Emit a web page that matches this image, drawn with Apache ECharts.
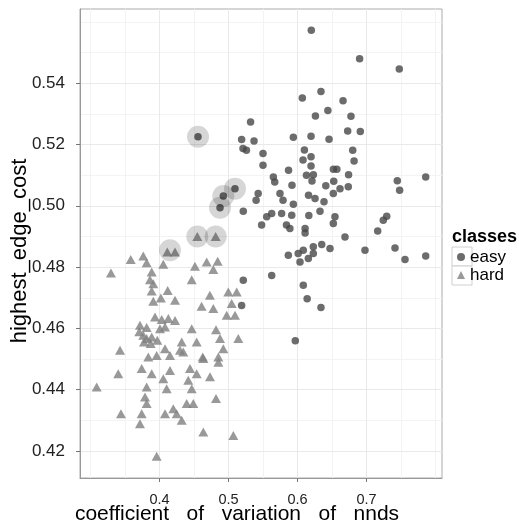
<!DOCTYPE html>
<html><head><meta charset="utf-8">
<script src="https://cdn.jsdelivr.net/npm/echarts@6/dist/echarts.min.js"></script>
<style>html,body{margin:0;padding:0;background:#fff}#c{width:519px;height:525px}</style>
</head><body><div id="c"></div>
<script>
const classes = ['easy', 'hard'];
const easyX = [0.620,0.690,0.7475,0.634,0.607,0.666,0.644,0.626,0.6775,0.532,0.4558,0.594,0.6196,0.6457,0.6727,0.691,0.519,0.537,0.521,0.526,0.550,0.550,0.610,0.6196,0.608,0.680,0.682,0.587,0.6196,0.652,0.657,0.565,0.567,0.613,0.623,0.621,0.674,0.6525,0.592,0.641,0.6616,0.6736,0.7446,0.7858,0.748,0.5094,0.4925,0.4877,0.5214,0.543,0.540,0.5746,0.579,0.594,0.616,0.6254,0.6384,0.6519,0.5554,0.5626,0.548,0.577,0.5916,0.584,0.589,0.611,0.611,0.6164,0.6326,0.6543,0.6519,0.7293,0.7243,0.7162,0.6688,0.5867,0.601,0.6084,0.6036,0.6157,0.6229,0.6351,0.6471,0.6229,0.6978,0.7413,0.7558,0.7858,0.5626,0.5214,0.6084,0.519,0.614,0.634,0.5968];
const easyY = [0.5573,0.548,0.5446,0.5373,0.5352,0.5343,0.5311,0.5293,0.5292,0.5273,0.5225,0.5224,0.5227,0.5217,0.5244,0.5242,0.5216,0.5211,0.5187,0.5181,0.5171,0.5132,0.5182,0.516,0.5149,0.5181,0.5146,0.5116,0.513,0.5119,0.5119,0.5094,0.5078,0.510,0.5101,0.5081,0.5101,0.508,0.5067,0.5065,0.5056,0.5062,0.5082,0.5094,0.5051,0.5056,0.5032,0.4994,0.4982,0.504,0.5018,0.504,0.5018,0.5005,0.5034,0.5024,0.5013,0.504,0.4964,0.4975,0.4937,0.4975,0.4969,0.4937,0.4926,0.4926,0.4911,0.4968,0.4982,0.4964,0.4942,0.4966,0.4953,0.4918,0.4898,0.4839,0.4844,0.4855,0.4817,0.4828,0.4866,0.4874,0.4861,0.4844,0.4855,0.4862,0.4825,0.4836,0.4773,0.4757,0.4741,0.4675,0.4697,0.4668,0.456];
const hardX = [0.4113,0.4225,0.4548,0.4814,0.3583,0.3765,0.3814,0.4055,0.3297,0.3887,0.3862,0.391,0.3887,0.4119,0.402,0.4225,0.391,0.3935,0.4032,0.4128,0.4225,0.3717,0.3814,0.3707,0.3765,0.3814,0.3887,0.3968,0.3775,0.3872,0.4007,0.408,0.3428,0.4297,0.3959,0.4514,0.4684,0.4843,0.478,0.4467,0.473,0.4997,0.5119,0.461,0.478,0.5046,0.4974,0.5094,0.4467,0.4819,0.4877,0.5142,0.4539,0.4925,0.4322,0.4345,0.4626,0.309,0.3402,0.3742,0.3887,0.3814,0.379,0.3814,0.3742,0.3717,0.3442,0.3838,0.408,0.4152,0.4152,0.4055,0.4104,0.408,0.420,0.4249,0.4322,0.4442,0.4417,0.4467,0.4394,0.449,0.4539,0.4635,0.4732,0.4635,0.4819,0.507,0.3959,0.4853,0.4853];
const hardY = [0.4849,0.4849,0.490,0.490,0.4825,0.4836,0.4814,0.4809,0.4781,0.4784,0.4759,0.4746,0.4722,0.4724,0.4699,0.4692,0.4689,0.4637,0.4629,0.4632,0.4626,0.461,0.4603,0.4589,0.4578,0.4567,0.4572,0.4561,0.4556,0.4551,0.4599,0.4605,0.4529,0.4529,0.4512,0.4803,0.4817,0.4819,0.4792,0.4759,0.4708,0.4719,0.4719,0.4672,0.4665,0.4681,0.4643,0.4643,0.4599,0.4596,0.4567,0.4567,0.4556,0.4534,0.4556,0.4523,0.4507,0.4409,0.4452,0.4469,0.4452,0.4409,0.4376,0.4355,0.4322,0.4289,0.4322,0.4507,0.4534,0.4512,0.4463,0.4436,0.4403,0.4322,0.4338,0.4322,0.430,0.4469,0.4431,0.4403,0.4355,0.4355,0.4452,0.4502,0.4442,0.4262,0.4371,0.4251,0.4183,0.4507,0.449];
const highlightX = [0.4558,0.5094,0.4925,0.4877,0.4548,0.4814,0.4152];
const highlightY = [0.5225,0.5056,0.5032,0.4994,0.490,0.490,0.4855];
const xTicks = [0.4, 0.5, 0.6, 0.7];
const yTicks = [0.42, 0.44, 0.46, 0.48, 0.50, 0.52, 0.54];
const xMinor = [0.3, 0.35, 0.45, 0.55, 0.65, 0.75, 0.8];
const yMinor = [0.43, 0.45, 0.47, 0.49, 0.51, 0.53, 0.55, 0.56];
const xRange = [0.2848, 0.8094];
const yRange = [0.4112, 0.5642];
const xTitle = 'coefficient   of   variation   of   nnds';
const yTitle = 'highest_edge_cost';
const legendTitle = 'classes';

const zip = (a, b) => a.map((v, i) => [v, b[i]]);
const FONT = 'Liberation Sans';
const chart = echarts.init(document.getElementById('c'), null, {renderer: 'canvas'});
const minorAxis = (r, vals) => ({
  type: 'value', min: r[0], max: r[1], z: 0,
  axisLine: {show: false}, axisLabel: {show: false},
  axisTick: {show: false, customValues: vals},
  splitLine: {show: true, lineStyle: {color: '#f3f3f3', width: 1}}
});
chart.setOption({
  animation: false,
  backgroundColor: '#ffffff',
  textStyle: {fontFamily: FONT},
  title: {text: legendTitle, left: 452, top: 228, padding: 0,
    textStyle: {fontFamily: FONT, fontWeight: 'bold', fontSize: 18, color: '#000'}},
  grid: {left: 80, top: 9, right: 77, bottom: 47, outerBoundsMode: 'none', containLabel: false,
    show: true, borderColor: '#ababab', borderWidth: 1, backgroundColor: 'transparent'},
  legend: {
    data: classes, orient: 'vertical', left: 457, top: 248, padding: 0,
    itemGap: 0, itemWidth: 8, itemHeight: 8, itemTextGap: 12,
    textStyle: {fontFamily: FONT, fontSize: 17, color: '#000', lineHeight: 18}
  },
  graphic: [
    {type: 'rect', z: 0, shape: {x: 452, y: 247, width: 20, height: 19}, style: {fill: '#fff', stroke: '#d0d0d0', lineWidth: 1}},
    {type: 'rect', z: 0, shape: {x: 452, y: 266, width: 20, height: 19}, style: {fill: '#fff', stroke: '#d0d0d0', lineWidth: 1}}
  ],
  xAxis: [
    {type: 'value', min: xRange[0], max: xRange[1], z: 1,
      name: xTitle, nameLocation: 'middle', nameGap: 26, nameMoveOverlap: false,
      nameTextStyle: {fontFamily: FONT, fontSize: 21, color: '#000', padding: [0, 48, 0, 0]},
      axisLine: {show: true, onZero: false, lineStyle: {color: '#999', width: 1}},
      axisTick: {show: true, length: 4, customValues: xTicks, lineStyle: {color: '#777'}},
      axisLabel: {customValues: xTicks, margin: 14, fontFamily: FONT, fontSize: 14.5, color: '#222', formatter: v => v.toFixed(1)},
      splitLine: {show: true, lineStyle: {color: '#e9e9e9', width: 1}}},
    minorAxis(xRange, xMinor)
  ],
  yAxis: [
    {type: 'value', min: yRange[0], max: yRange[1], z: 1,
      name: yTitle, nameLocation: 'middle', nameGap: 49, nameRotate: 90, nameMoveOverlap: false,
      nameTextStyle: {fontFamily: FONT, fontSize: 22, color: '#000', padding: [0, 15, 0, 0]},
      axisLine: {show: true, onZero: false, lineStyle: {color: '#999', width: 1}},
      axisTick: {show: true, length: 4, customValues: yTicks, lineStyle: {color: '#777'}},
      axisLabel: {customValues: yTicks, margin: 15, fontFamily: FONT, fontSize: 17, color: '#222', formatter: v => v.toFixed(2)},
      splitLine: {show: true, lineStyle: {color: '#e9e9e9', width: 1}}},
    minorAxis(yRange, yMinor)
  ],
  series: [
    {name: 'easy', type: 'scatter', xAxisIndex: 0, yAxisIndex: 0, symbol: 'circle', symbolSize: 7.5,
      itemStyle: {color: '#474747'}, data: zip(easyX, easyY), z: 3},
    {name: 'hard', type: 'scatter', xAxisIndex: 0, yAxisIndex: 0, symbol: 'triangle', symbolSize: [10, 9],
      itemStyle: {color: '#7f7f7f'}, data: zip(hardX, hardY), z: 3},
    {name: 'highlight', type: 'scatter', xAxisIndex: 0, yAxisIndex: 0, symbol: 'circle', symbolSize: 22,
      itemStyle: {color: 'rgba(0,0,0,0.2)'}, data: zip(highlightX, highlightY), z: 4, silent: true}
  ]
});
</script></body></html>
